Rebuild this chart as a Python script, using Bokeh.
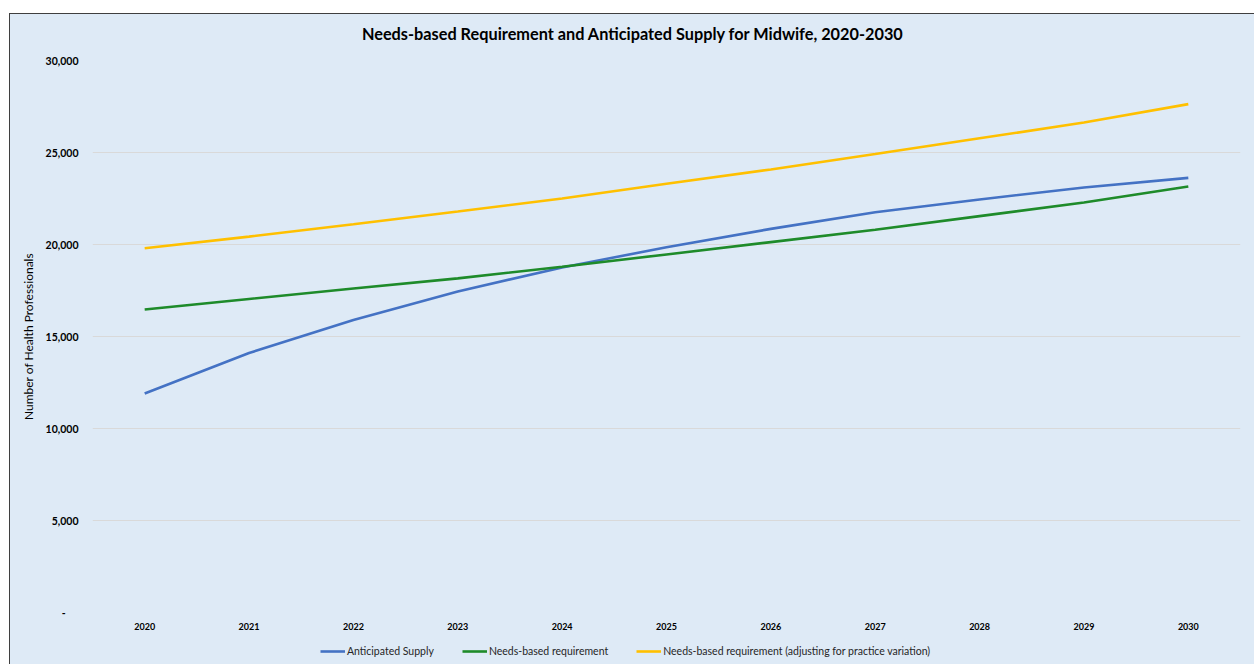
from bokeh.plotting import figure
from bokeh.layouts import column
from bokeh.models import FixedTicker, Legend, LegendItem, ColumnDataSource, Label
from bokeh.embed import file_html
from bokeh.resources import INLINE

years = [str(y) for y in range(2020, 2031)]
anticipated_supply = [11900, 14100, 15900, 17450, 18750, 19850, 20850, 21750, 22450, 23100, 23620]
needs_requirement = [16470, 17040, 17610, 18160, 18790, 19460, 20130, 20800, 21540, 22280, 23150]
needs_requirement_adj = [19800, 20430, 21100, 21790, 22500, 23300, 24080, 24920, 25770, 26630, 27630]

series_names = ["Anticipated Supply", "Needs-based requirement",
                "Needs-based requirement (adjusting for practice variation)"]
series_colors = ["#4472C4", "#1E8B2A", "#FFC000"]

y_ticks = [0, 5000, 10000, 15000, 20000, 25000, 30000]
y_tick_labels = ["-\u00a0\u00a0\u00a0\u00a0\u00a0", "5,000", "10,000", "15,000", "20,000", "25,000", "30,000"]

title_text = "Needs-based Requirement and Anticipated Supply for Midwife, 2020-2030"

FONT = "Lato"
BG = "#DEEAF6"
W = 1244
# strips share the main chart's frame (page x 92..1240) because column aligns frames
FRAME_X = (92, 1240)


def strip(height):
    f = figure(width=W, height=height, x_range=FRAME_X, y_range=(0, height),
               output_backend="svg", toolbar_location=None, min_border=0,
               min_border_left=82, min_border_right=14,
               background_fill_color=BG, border_fill_color=BG, outline_line_color=None)
    f.axis.visible = False
    f.grid.visible = False
    return f


# ---- title strip ----
tf = strip(36)
tf.add_layout(Label(x=632.5, y=17, text=title_text, text_align="center", text_baseline="middle",
                    text_font=FONT, text_font_size="16.3px", text_font_style="bold",
                    text_color="#000000"))

# ---- main chart ----
src = ColumnDataSource(dict(year=years, supply=anticipated_supply,
                            need=needs_requirement, need_adj=needs_requirement_adj))

p = figure(width=W, height=588, x_range=years, y_range=(0, 30000),
           output_backend="svg", toolbar_location=None,
           min_border_left=82, min_border_right=14, min_border_top=10, min_border_bottom=26,
           background_fill_color=BG, border_fill_color=BG, outline_line_color=None)

for col, color in zip(["supply", "need", "need_adj"], series_colors):
    p.line("year", col, source=src, line_color=color, line_width=2.6)

p.yaxis.ticker = FixedTicker(ticks=y_ticks)
p.yaxis.major_label_overrides = {t: l for t, l in zip(y_ticks, y_tick_labels)}
p.yaxis.axis_label = "Number of Health Professionals"
p.yaxis.axis_label_text_font = FONT
p.yaxis.axis_label_text_font_size = "12px"
p.yaxis.axis_label_text_font_style = "normal"
p.yaxis.axis_label_text_color = "#000000"
p.yaxis.axis_label_standoff = 7

for ax in (p.xaxis[0], p.yaxis[0]):
    ax.axis_line_color = None
    ax.major_tick_line_color = None
    ax.minor_tick_line_color = None
    ax.major_tick_out = 0
    ax.major_tick_in = 0
    ax.major_label_text_font = FONT
    ax.major_label_text_font_style = "bold"
    ax.major_label_text_color = "#000000"

p.yaxis.major_label_text_font_size = "10.5px"
p.yaxis.major_label_standoff = 14
p.xaxis.major_label_text_font_size = "9px"
p.xaxis.major_label_standoff = 10

p.xgrid.grid_line_color = None
p.ygrid.grid_line_color = "#D9D9D9"
p.ygrid.grid_line_width = 1

# ---- legend strip ----
lf = strip(26)
items = []
for name, color in zip(series_names, series_colors):
    # legend-only swatch renderer, its single point lies outside the visible range
    r = lf.line(x=[0, 1], y=[-100, -100], line_color=color, line_width=2.6)
    items.append(LegendItem(label=name, renderers=[r]))
legend = Legend(items=items, orientation="horizontal", location=(228, 6))
legend.label_text_font = FONT
legend.label_text_font_size = "10.5px"
legend.label_text_color = "#262626"
legend.label_height = 14
legend.glyph_width = 25
legend.glyph_height = 12
legend.label_standoff = 2
legend.spacing = 28
legend.padding = 0
legend.margin = 0
legend.border_line_color = None
legend.background_fill_alpha = 0
lf.add_layout(legend)

layout = column(tf, p, lf, spacing=0)
layout.margin = (13, 0, 0, 9)
layout.styles = {"border-left": "1px solid #3F3F3F", "border-top": "1px solid #3F3F3F",
                 "background-color": BG}

open("out.html", "w").write(file_html(layout, INLINE))
